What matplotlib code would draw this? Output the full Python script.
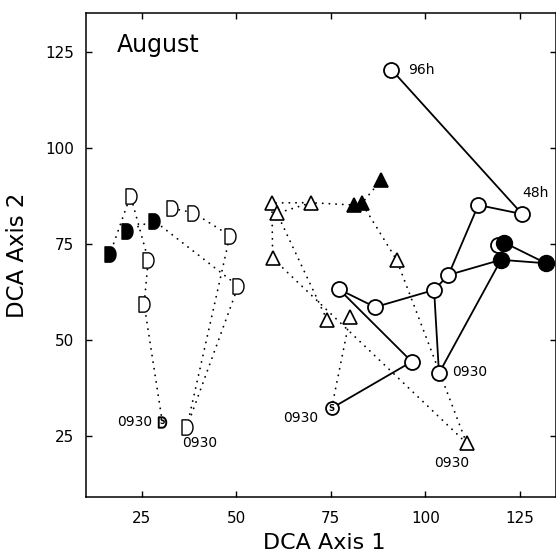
import numpy as np
import matplotlib
matplotlib.use("Agg")
import matplotlib.pyplot as plt
from matplotlib.path import Path

plt.rcParams['font.family'] = ['DejaVu Sans']

# ---------------- data ----------------
# "D" treatment (dotted)
d_x = [30.4, 25.6, 26.7, 22.0, 16.6, 36.9, 50.5, 28.2, 21.2, 48.3, 38.5, 32.9]
d_y = [28.8, 59.4, 70.85, 87.6, 72.5, 27.35, 64.1, 81.1, 78.5, 77.2, 83.2, 84.3]
d_kind = ['s', 'o', 'o', 'o', 'f', 'o', 'o', 'f', 'f', 'o', 'o', 'o']
d_paths = [[0, 1, 2, 3, 4], [5, 6, 7, 8], [5, 9, 10, 11]]

# triangle treatment (dotted); last point = shared start (no marker)
t_x = [59.4, 60.75, 69.8, 59.6, 74.0, 80.1, 92.4, 81.0, 83.2, 88.3, 110.9, 75.2]
t_y = [85.7, 83.0, 85.75, 71.3, 55.25, 56.1, 70.85, 85.15, 85.6, 91.65, 23.2, 32.3]
t_kind = ['o', 'o', 'o', 'o', 'o', 'o', 'o', 'f', 'f', 'f', 'o', 'x']
t_paths = [[10, 3, 0, 2, 7], [10, 6, 8, 9], [4, 1, 2], [11, 5]]

# circle treatment (solid)
c_x = [75.2, 96.4, 77.2, 86.7, 102.3, 106.1, 114.0, 125.6, 91.0, 103.6, 119.3, 120.9, 120.0, 131.9]
c_y = [32.3, 44.4, 63.2, 58.6, 63.05, 66.95, 85.15, 82.8, 120.4, 41.4, 74.75, 75.35, 70.9, 70.0]
c_kind = ['s', 'o', 'o', 'o', 'o', 'o', 'o', 'o', 'o', 'o', 'o', 'f', 'f', 'f']
c_paths = [[0, 1, 2, 3, 4, 5, 6, 7, 8], [9, 4], [5, 12], [9, 12, 13, 11]]

# point labels: (group, index, text)
point_labels = [('d', 0, '0930'), ('d', 5, '0930'), ('c', 0, '0930'),
                ('t', 10, '0930'), ('c', 9, '0930'), ('c', 8, '96h'), ('c', 7, '48h')]

x_ticks = [25, 50, 75, 100, 125]
y_ticks = [25, 50, 75, 100, 125]
panel_title = 'August'
x_label = 'DCA Axis 1'
y_label = 'DCA Axis 2'

# ---------------- figure ----------------
fig = plt.figure(figsize=(5.56, 5.55), dpi=100)
ax = fig.add_axes([0.1538, 0.1038, 0.8462, 0.8728])
ax.set_xlim(10.1, 134.55)
ax.set_ylim(9.1, 135.1)

# D-shaped marker path
t = np.linspace(np.pi / 2, -np.pi / 2, 40)
arc = np.column_stack([-0.02 + 0.38 * np.cos(t), 0.5 * np.sin(t)])
verts = np.vstack([[-0.36, -0.5], [-0.36, 0.5], arc, [-0.36, -0.5]])
codes = [Path.MOVETO] + [Path.LINETO] * (len(verts) - 2) + [Path.CLOSEPOLY]
DPATH = Path(verts, codes)

dotted = dict(color='black', lw=1.3, linestyle=(0, (0.1, 3.6)),
              dash_capstyle='round', zorder=2)
solid = dict(color='black', lw=1.3, zorder=2)

for p in d_paths:
    ax.plot([d_x[i] for i in p], [d_y[i] for i in p], **dotted)
for p in t_paths:
    ax.plot([t_x[i] for i in p], [t_y[i] for i in p], **dotted)
for p in c_paths:
    ax.plot([c_x[i] for i in p], [c_y[i] for i in p], **solid)

# markers: D group
for x, y, k in zip(d_x, d_y, d_kind):
    if k == 'o':
        ax.plot(x, y, marker=DPATH, ms=11, mfc='white', mec='black', mew=1.0, zorder=4)
    elif k == 'f':
        ax.plot(x, y, marker=DPATH, ms=11, mfc='black', mec='black', mew=1.0, zorder=4)
    elif k == 's':
        ax.plot(x, y, marker=DPATH, ms=7.5, mfc='white', mec='black', mew=1.4, zorder=4)
        ax.text(x, y, 'S', fontsize=5.5, fontweight='bold', ha='center', va='center', zorder=5)

# markers: triangles
for x, y, k in zip(t_x, t_y, t_kind):
    if k == 'o':
        ax.plot(x, y, marker='^', ms=9.5, mfc='white', mec='black', mew=1.2, zorder=4)
    elif k == 'f':
        ax.plot(x, y, marker='^', ms=9.5, mfc='black', mec='black', mew=1.2, zorder=4)

# markers: circles
for x, y, k in zip(c_x, c_y, c_kind):
    if k == 'o':
        ax.plot(x, y, marker='o', ms=10.8, mfc='white', mec='black', mew=1.3, zorder=4)
    elif k == 'f':
        ax.plot(x, y, marker='o', ms=11.5, mfc='black', mec='black', mew=1.0, zorder=5)
    elif k == 's':
        ax.plot(x, y, marker='o', ms=9.3, mfc='white', mec='black', mew=1.3, zorder=4)
        ax.text(x, y, 'S', fontsize=6, fontweight='bold', ha='center', va='center', zorder=5)

# labels
groups = {'d': (d_x, d_y), 't': (t_x, t_y), 'c': (c_x, c_y)}
offsets = {('d', 0): ((-7.2, 0), 'right', 'center'),
           ('d', 5): ((9.0, -11.3), 'center', 'center'),
           ('c', 0): ((-9.6, -7.2), 'right', 'center'),
           ('t', 10): ((-10.6, -14.2), 'center', 'center'),
           ('c', 9): ((9.1, 1.2), 'left', 'center'),
           ('c', 8): ((12.0, 0.0), 'left', 'center'),
           ('c', 7): ((0.0, 15.3), 'left', 'center')}
for g, i, txt in point_labels:
    xs, ys = groups[g]
    off, ha, va = offsets[(g, i)]
    ax.annotate(txt, xy=(xs[i], ys[i]), xytext=off, textcoords='offset points',
                fontsize=10, ha=ha, va=va, zorder=6)

ax.text(18.4, 125.0, panel_title, fontsize=17, ha='left', va='baseline')

ax.set_xticks(x_ticks)
ax.set_yticks(y_ticks)
ax.tick_params(direction='in', length=4.5, width=1.0, top=True, right=True,
               labelsize=11, pad=8)
ax.tick_params(axis='x', pad=10)
for s in ax.spines.values():
    s.set_linewidth(1.1)

ax.set_xlabel(x_label, fontsize=16)
ax.set_ylabel(y_label, fontsize=16.5)
ax.xaxis.set_label_coords(0.508, -0.094)
ax.xaxis.label.set_va('center')
ax.yaxis.set_label_coords(-0.1435, 0.5)
ax.yaxis.label.set_va('center')

fig.savefig('out.png', dpi=100)
